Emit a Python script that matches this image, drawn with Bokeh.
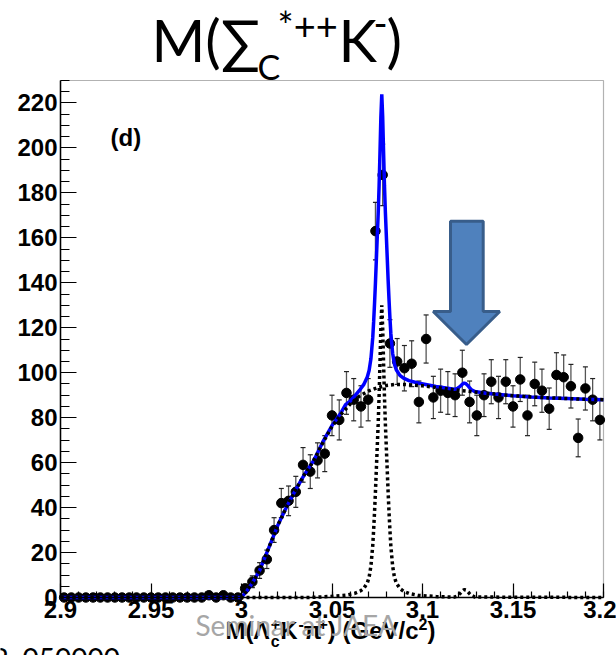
import numpy as np
from bokeh.plotting import figure
from bokeh.models import (Label, SingleIntervalTicker, CustomJSTickFormatter, Range1d,
                          LinearAxis, BoxAnnotation)
from bokeh.embed import file_html
from bokeh.resources import INLINE

# ---------------- data ----------------
bin_centers = [2.902, 2.906, 2.910, 2.914, 2.918, 2.922, 2.926, 2.930, 2.934, 2.938,
               2.942, 2.946, 2.950, 2.954, 2.958, 2.962, 2.966, 2.970, 2.974, 2.978,
               2.982, 2.986, 2.990, 2.994, 2.998, 3.002, 3.006, 3.010, 3.014, 3.018,
               3.022, 3.026, 3.030, 3.034, 3.038, 3.042, 3.046, 3.050, 3.054, 3.058,
               3.062, 3.066, 3.070, 3.074, 3.078, 3.082, 3.086, 3.090, 3.094, 3.098,
               3.102, 3.106, 3.110, 3.114, 3.118, 3.122, 3.126, 3.130, 3.134, 3.138,
               3.142, 3.146, 3.150, 3.154, 3.158, 3.162, 3.166, 3.170, 3.174, 3.178,
               3.182, 3.186, 3.190, 3.194, 3.198]
counts = [0, 0, 0, 0, 0, 0, 0, 0, 0, 0,
          0, 0, 0, 0, 0, 0, 0, 0, 0, 0,
          1, 0, 1, 0, 0, 4, 7, 12, 17, 30,
          42, 43, 47, 59, 56, 61, 64, 81, 79, 91,
          88, 85, 88, 163, 188, 113, 105, 102, 104, 87,
          115, 89, 92, 91, 90, 100, 87, 81, 90, 96,
          89, 96, 85, 97, 81, 95, 92, 84, 99, 98,
          94, 71, 93, 88, 79]
errors = [0, 0, 0, 0, 0, 0, 0, 0, 0, 0,
          0, 0, 0, 0, 0, 0, 0, 0, 0, 0,
          1.0, 0, 1.0, 0, 0, 2.0, 2.6, 3.5, 4.1, 5.5,
          6.5, 6.6, 6.9, 7.7, 7.5, 7.8, 8.0, 9.0, 8.9, 9.5,
          9.4, 9.2, 9.4, 12.8, 13.7, 10.6, 10.2, 10.1, 10.2, 9.3,
          10.7, 9.4, 9.6, 9.5, 9.5, 10.0, 9.3, 9.0, 9.5, 9.8,
          9.4, 9.8, 9.2, 9.8, 9.0, 9.7, 9.6, 9.2, 9.9, 9.9,
          9.7, 8.4, 9.6, 9.4, 8.9]

# background component (black dotted)
bg_x = [2.900, 3.000, 3.003, 3.006, 3.010, 3.015, 3.020, 3.025, 3.030, 3.035,
        3.040, 3.045, 3.050, 3.055, 3.060, 3.065, 3.070, 3.075, 3.080, 3.085,
        3.090, 3.100, 3.110, 3.120, 3.130, 3.140, 3.150, 3.160, 3.170, 3.180,
        3.190, 3.200]
bg_y = [0, 0, 3, 6.5, 12, 22, 32, 40.5, 48, 55,
        61, 69, 76, 81.5, 86, 89.5, 91.8, 93.3, 94.3, 94.8,
        94.8, 94.2, 93.2, 92.2, 91.3, 90.5, 89.8, 89.2, 88.8, 88.5,
        88.2, 88.0]

# signal components (black dotted)
sig_x = [2.900, 3.0375, 3.0475, 3.0575, 3.0625, 3.0655, 3.0675, 3.0695, 3.0705, 3.0715,
         3.0725, 3.0730, 3.0735, 3.0740, 3.0745, 3.0750, 3.0755, 3.0760, 3.0765, 3.0770,
         3.0775, 3.0780, 3.0785, 3.0790, 3.0795, 3.0800, 3.0805, 3.0810, 3.0815, 3.0820,
         3.0825, 3.0835, 3.0845, 3.0855, 3.0875, 3.0895, 3.0925, 3.0975, 3.1075, 3.1175,
         3.119, 3.120, 3.121, 3.122, 3.123, 3.124, 3.125, 3.126, 3.127, 3.129, 3.200]
sig_y = [0, 0, 0.4, 1.0, 1.8, 2.8, 4.0, 6.5, 9, 14,
         23, 30, 38, 47, 57, 67, 77, 89, 104, 120,
         130, 120, 104, 89, 77, 67, 57, 47, 38, 30,
         23, 14, 9, 6.5, 4.0, 2.8, 1.8, 1.0, 0.4, 0.2,
         0.6, 1.2, 2.0, 2.9, 3.5, 3.3, 2.6, 1.7, 0.9, 0.2, 0]

# total fit (blue)
fit_x = [2.900, 3.000, 3.003, 3.006, 3.010, 3.015, 3.020, 3.025, 3.030, 3.035,
         3.0375, 3.040, 3.045, 3.0475, 3.050, 3.055, 3.0575, 3.060, 3.0625, 3.0655,
         3.0675, 3.0695, 3.0705, 3.0715, 3.0725, 3.0730, 3.0735, 3.0740, 3.0745, 3.0750,
         3.0755, 3.0760, 3.0765, 3.0770, 3.0775, 3.0780, 3.0785, 3.0790, 3.0795, 3.0800,
         3.0805, 3.0810, 3.0815, 3.0820, 3.0825, 3.0835, 3.0845, 3.0855, 3.0875, 3.0895,
         3.0925, 3.0975, 3.1075, 3.1175, 3.119, 3.120, 3.121, 3.122, 3.123, 3.124,
         3.125, 3.126, 3.127, 3.129, 3.135, 3.140, 3.150, 3.160, 3.170, 3.180,
         3.190, 3.200]
fit_y = [0, 0, 3, 6.5, 12, 22, 32, 40.5, 48, 55,
         58, 61.1, 69.3, 72.9, 76.5, 82.2, 85.8, 87.3, 89.6, 92.5,
         94.7, 98.1, 101, 106.2, 115.5, 122.6, 130.8, 139.9, 150.1, 160.3,
         170.4, 182.5, 197.6, 213.7, 223.8, 213.9, 198, 183.1, 171.2, 161.3,
         151.4, 141.4, 132.5, 124.5, 117.6, 108.7, 103.8, 101.3, 98.8, 97.6,
         96.5, 95.4, 93.9, 92.6, 92.9, 93.4, 94.1, 94.9, 95.4, 95.1,
         94.35, 93.35, 92.45, 91.6, 90.9, 90.5, 89.8, 89.2, 88.8, 88.5,
         88.2, 88.0]

X_MIN, X_MAX = 2.9, 3.2
Y_MIN, Y_MAX = 0, 230

# ---------------- layout (pixels) ----------------
W, H = 616, 655
FL, FR, FT, FB = 60, 603, 80, 597          # plot box edges in pixels
KX = (FR - FL) / (X_MAX - X_MIN)            # px per x unit
KY = (FB - FT) / (Y_MAX - Y_MIN)            # px per y unit
xr = Range1d(X_MIN - FL / KX, X_MAX + (W - FR) / KX)
yr = Range1d(Y_MIN - (H - FB) / KY, Y_MAX + FT / KY)

p = figure(width=W, height=H, output_backend="svg", toolbar_location=None,
           x_range=xr, y_range=yr, x_axis_location=None, y_axis_location=None,
           min_border=0, min_border_left=0, min_border_right=0,
           min_border_top=0, min_border_bottom=0,
           background_fill_color="white", border_fill_color="white")
p.grid.visible = False
p.outline_line_color = None
p.title.visible = False


def dx(px):
    return X_MIN + (px - FL) / KX


def dy(py):
    return Y_MIN + (FB - py) / KY


# plot box
p.add_layout(BoxAnnotation(left=X_MIN, right=X_MAX, bottom=Y_MIN, top=Y_MAX,
                           fill_alpha=0, line_color="black", line_width=1.2))

# axes (ROOT-like: ticks inside), pinned to the plot box
xaxis = LinearAxis(fixed_location=Y_MIN, bounds=(X_MIN, X_MAX),
                   ticker=SingleIntervalTicker(interval=0.05, num_minor_ticks=5))
yaxis = LinearAxis(fixed_location=X_MIN, bounds=(Y_MIN, Y_MAX),
                   ticker=SingleIntervalTicker(interval=20, num_minor_ticks=4))
for ax in (xaxis, yaxis):
    ax.axis_line_color = "black"
    ax.axis_line_width = 1.5
    ax.major_tick_line_color = "black"
    ax.minor_tick_line_color = "black"
    ax.major_tick_line_width = 1.2
    ax.minor_tick_line_width = 1.2
    ax.major_tick_out = 0
    ax.minor_tick_out = 0
    ax.major_label_text_font = "Liberation Sans"
    ax.major_label_text_font_style = "bold"
    ax.major_label_text_font_size = "24px"
    ax.major_label_text_color = "black"
xaxis.major_tick_in = 14
xaxis.minor_tick_in = 6
xaxis.major_label_standoff = 3
xaxis.formatter = CustomJSTickFormatter(
    code="var s = tick.toFixed(2); s = s.replace(/0+$/, ''); return s.replace(/\\.$/, '');")
yaxis.major_tick_in = 16
yaxis.minor_tick_in = 9
yaxis.major_label_standoff = 3
p.add_layout(xaxis, "below")
p.add_layout(yaxis, "left")

# ---------------- data points ----------------
cx = np.array(bin_centers)
cy = np.array(counts, dtype=float)
ce = np.array(errors, dtype=float)
m = ce > 0
p.segment(cx[m], cy[m] - ce[m], cx[m], cy[m] + ce[m], line_color="#555555", line_width=1.3)
p.scatter(np.concatenate([cx[m], cx[m]]), np.concatenate([cy[m] - ce[m], cy[m] + ce[m]]),
          marker="dash", size=5, line_color="#222222", line_width=1.2)
p.scatter(cx, cy, marker="circle", size=9.5, fill_color="black", line_color="black")

# ---------------- fit curves ----------------
p.line(fit_x, fit_y, line_color="#0000ff", line_width=3.5)
p.line(bg_x, bg_y, line_color="black", line_width=3.5, line_dash="3 3")
p.line(sig_x, sig_y, line_color="black", line_width=3.5, line_dash="3 3")

# ---------------- block arrow (annotation) ----------------
ax_px = [450, 482.7, 482.7, 499.3, 466, 432.7, 450]
ay_px = [220.7, 220.7, 311, 311, 344, 311, 311]
p.patch([dx(v) for v in ax_px], [dy(v) for v in ay_px],
        fill_color="#4f81bd", line_color="#385d8a", line_width=3)


# ---------------- texts ----------------
BASE_FIX = 0.4   # baseline correction (fraction of font size)


def put(text, px, py, size, font="Liberation Sans", style="normal", color="black"):
    p.add_layout(Label(x=dx(px), y=dy(py - BASE_FIX * size), text=text, text_font=font,
                       text_font_size=f"{size}px", text_font_style=style,
                       text_color=color, text_baseline="alphabetic", text_align="left"))


put("(d)", 110, 147, 24, style="bold")

# x axis title  M(Λc+ K- π+) (GeV/c2), laid out piece by piece (Arial-bold advances)
ADV = {"M": .833, "(": .333, ")": .333, "Λ": .722, "c": .556, "+": .584, "K": .722,
       "-": .333, "π": .611, " ": .278, "G": .778, "e": .556, "V": .667, "/": .278,
       "2": .556}


def tw(s, size):
    return sum(ADV[ch] for ch in s) * size


S_MAIN, S_SCR = 24, 16
BL, SUP, SUB = 640, 630, 647
xp = 225
put("M(Λ", xp, BL, S_MAIN, style="bold"); xp += tw("M(Λ", S_MAIN)
put("c", xp, SUB, S_SCR, style="bold")
put("+", xp, SUP, S_SCR, style="bold"); xp += tw("+", S_SCR)
put("K", xp, BL, S_MAIN, style="bold"); xp += tw("K", S_MAIN)
put("-", xp + 1, SUP, S_SCR, style="bold"); xp += tw("-", S_SCR) + 1
put("π", xp, BL, S_MAIN, style="bold"); xp += tw("π", S_MAIN)
put("+", xp, SUP, S_SCR, style="bold"); xp += tw("+", S_SCR)
put(") (GeV/c", xp, BL, S_MAIN, style="bold"); xp += tw(") (GeV/c", S_MAIN)
put("2", xp, SUP, S_SCR, style="bold"); xp += tw("2", S_SCR)
put(")", xp, BL, S_MAIN, style="bold")

# page title  M(Σc*++K-)
put("M(∑", 151, 62, 58, font="Lato")
put("C", 257, 80, 34, font="Lato")
put("*++", 277, 40, 38, font="Lato")
put("K", 338, 62, 58, font="Lato")
put("-", 373, 38, 38, font="Lato")
put(")", 386, 62, 58, font="Lato")

# slide footer, cut by the bottom edge of the picture
put("2. 050000", -8, 669, 28, font="Lato")

# watermark (on top of the axis title)
put("Seminar at JAEA", 195, 636, 28, font="Lato", color="#a6a6a6")

open("out.html", "w").write(file_html(p, INLINE))
